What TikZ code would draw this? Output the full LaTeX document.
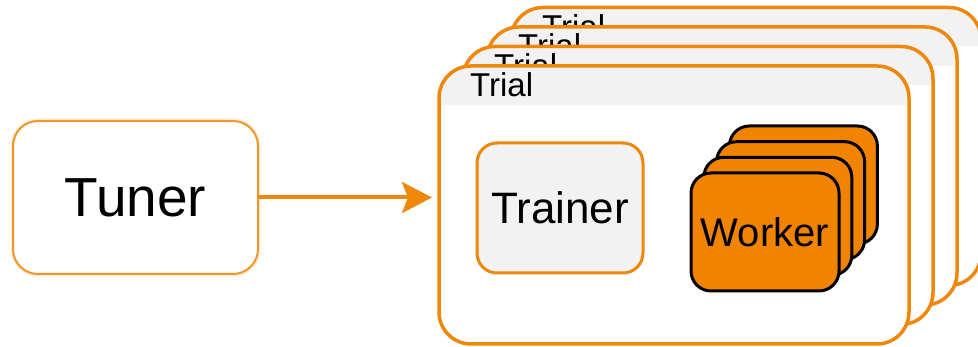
\documentclass[tikz,border=0pt]{standalone}
\usepackage{fontspec}
\setmainfont{Liberation Sans}
\usetikzlibrary{arrows.meta}
\definecolor{trialorange}{RGB}{239,135,10}
\definecolor{workerorange}{RGB}{240,131,0}
\definecolor{tunerorange}{RGB}{242,150,40}
\definecolor{headgray}{RGB}{242,242,242}
\tikzset{
  trialbox/.style={draw=trialorange, line width=3.5pt, rounded corners=32pt, fill=white,
    minimum width=470pt, minimum height=278pt, outer sep=0pt, inner sep=0pt,
    path picture={\fill[headgray, sharp corners] (path picture bounding box.north west) rectangle ([yshift=-39pt]path picture bounding box.north east);}},
  triallabel/.style={anchor=base west, font=\fontsize{33pt}{36pt}\selectfont, inner sep=0pt},
  workerbox/.style={draw=black, line width=3pt, rounded corners=20pt, fill=workerorange,
    minimum width=148pt, minimum height=118pt, outer sep=0pt, inner sep=0pt,
    font=\fontsize{40pt}{44pt}\selectfont},
  trainerbox/.style={draw=trialorange, line width=3pt, rounded corners=20pt, fill=headgray,
    minimum width=166pt, minimum height=130pt, outer sep=0pt, inner sep=0pt,
    font=\fontsize{44pt}{48pt}\selectfont},
  tunerbox/.style={draw=tunerorange, line width=2pt, rounded corners=25pt, fill=white,
    minimum width=245pt, minimum height=153pt, outer sep=0pt, inner sep=0pt,
    font=\fontsize{55pt}{60pt}\selectfont,
    preaction={draw=tunerorange!18, line width=5pt}},
  flowarrow/.style={draw=trialorange, line width=4pt,
    -{Stealth[length=30pt, width=31pt, inset=6pt]}}
}
\begin{document}
\begin{tikzpicture}[x=1pt,y=-1pt]
\useasboundingbox (0,0) rectangle (978,347);
% stacked trials, back to front
\node[trialbox] (t4) at (746,146.5) {};
\node[triallabel] (l4) at ([xshift=31pt,yshift=-31pt]t4.north west) {Trial};
\node[trialbox] (t3) at (722,166) {};
\node[triallabel] (l3) at ([xshift=31pt,yshift=-31pt]t3.north west) {Trial};
\node[trialbox] (t2) at (698,185.5) {};
\node[triallabel] (l2) at ([xshift=31pt,yshift=-31pt]t2.north west) {Trial};
\node[trialbox] (t1) at (674,205) {};
\node[triallabel] (l1) at ([xshift=31pt,yshift=-31pt]t1.north west) {Trial};
% trainer
\node[trainerbox] (trainer) at (560,208) {Trainer};
% workers, back to front
\node[workerbox] (w4) at (803.4,185) {};
\node[workerbox] (w3) at (790.6,200.7) {};
\node[workerbox] (w2) at (777.8,216.3) {};
\node[workerbox] (w1) at (765,232) {Worker};
% tuner
\node[tunerbox] (tuner) at (135.5,197.5) {Tuner};
% arrow
\draw[flowarrow, shorten >=7pt] (tuner.east) -- (tuner.east -| t1.west);
\end{tikzpicture}
\end{document}
